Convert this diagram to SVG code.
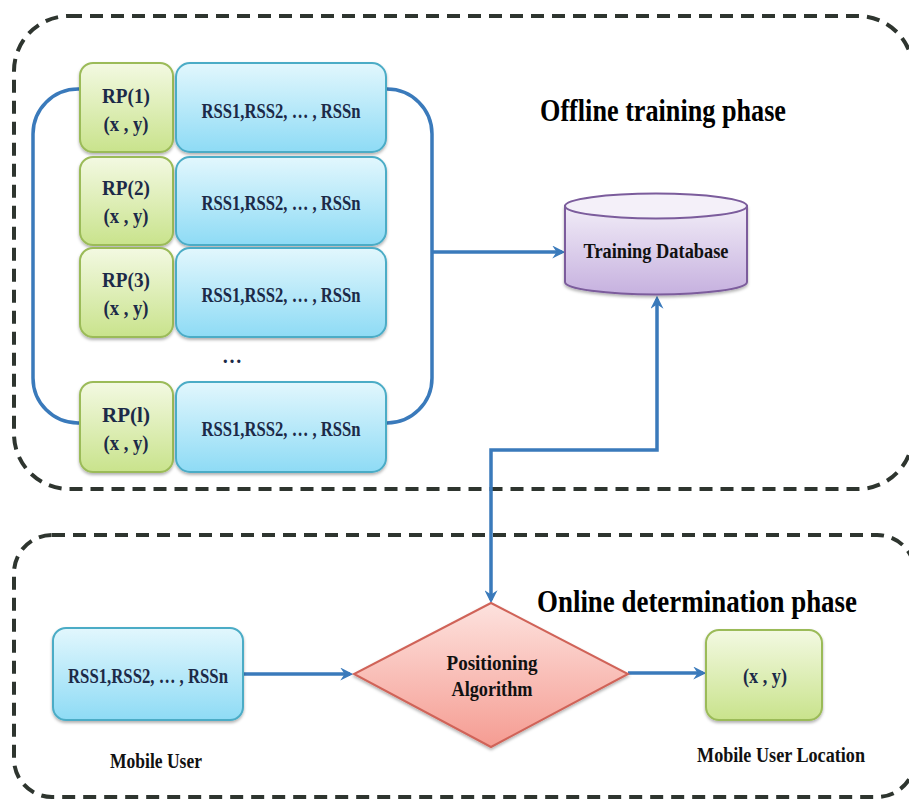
<svg xmlns="http://www.w3.org/2000/svg" width="909" height="799" viewBox="0 0 909 799">
  <defs>
    <linearGradient id="gGreen" x1="0" y1="0" x2="0" y2="1">
      <stop offset="0" stop-color="#f3f9e2"/>
      <stop offset="1" stop-color="#c9e38c"/>
    </linearGradient>
    <linearGradient id="gBlue" x1="0" y1="0" x2="0" y2="1">
      <stop offset="0" stop-color="#e2f7fd"/>
      <stop offset="1" stop-color="#8edbf5"/>
    </linearGradient>
    <linearGradient id="gPurple" x1="0" y1="0" x2="0" y2="1">
      <stop offset="0" stop-color="#f1ecf7"/>
      <stop offset="1" stop-color="#c6b1df"/>
    </linearGradient>
    <linearGradient id="gRed" x1="0" y1="0" x2="0" y2="1">
      <stop offset="0" stop-color="#fde2de"/>
      <stop offset="1" stop-color="#f59c92"/>
    </linearGradient>
    <filter id="shadow" x="-10%" y="-10%" width="120%" height="130%">
      <feDropShadow dx="0" dy="2" stdDeviation="1.5" flood-color="#000" flood-opacity="0.3"/>
    </filter>
    <marker id="arrow" viewBox="0 0 12 12" refX="9" refY="6" markerWidth="13" markerHeight="13" markerUnits="userSpaceOnUse" orient="auto-start-reverse">
      <path d="M0,0 L12,6 L0,12 L4,6 z" fill="#3a7abb"/>
    </marker>
  </defs>
  <style>
    .phase { fill: none; stroke: #2e352f; stroke-width: 4; stroke-dasharray: 13 8; }
    .conn { fill: none; stroke: #3a7abb; stroke-width: 3.5; }
    .rp { fill: url(#gGreen); stroke: #9bbb59; stroke-width: 2; filter: url(#shadow); }
    .rss { fill: url(#gBlue); stroke: #4bacc6; stroke-width: 2; filter: url(#shadow); }
    .t { font-family: "Liberation Serif", "DejaVu Serif", serif; font-weight: bold; text-anchor: middle; }
    .box { fill: #1c2a48; font-size: 20px; }
    .head { fill: #000; font-size: 31px; }
    .lbl { fill: #111; font-size: 20px; }
  </style>

  <!-- phase frames -->
  <rect class="phase" x="14" y="16" width="899" height="473" rx="55" ry="55"/>
  <rect class="phase" x="14" y="535" width="901" height="262" rx="38" ry="38"/>

  <text class="t head" x="663" y="121" textLength="246" lengthAdjust="spacingAndGlyphs">Offline training phase</text>
  <text class="t head" x="697" y="612" textLength="320" lengthAdjust="spacingAndGlyphs">Online determination phase</text>

  <!-- connectors -->
  <g id="connectors">
    <path class="conn" d="M80,89 H78 A45,45 0 0 0 33,134 V378 A45,45 0 0 0 78,423 H80"/>
    <path class="conn" d="M386,89 H387 A45,45 0 0 1 432,134 V378 A45,45 0 0 1 387,423 H386"/>
    <path class="conn" d="M432,252 H562" marker-end="url(#arrow)"/>
    <path class="conn" d="M657,299 V450 H491 V600" marker-start="url(#arrow)" marker-end="url(#arrow)"/>
    <path class="conn" d="M243,674 H350" marker-end="url(#arrow)"/>
    <path class="conn" d="M628,673 H703" marker-end="url(#arrow)"/>
  </g>

  <!-- fingerprint rows -->
  <g id="row1">
    <rect class="rp" x="80" y="63" width="93" height="89" rx="13"/>
    <rect class="rss" x="176" y="63" width="210" height="89" rx="14"/>
    <text class="t box" x="126" y="103" textLength="48" lengthAdjust="spacingAndGlyphs">RP(1)</text>
    <text class="t box" x="126" y="131" textLength="45" lengthAdjust="spacingAndGlyphs">(x , y)</text>
    <text class="t box" x="281" y="118" textLength="159" lengthAdjust="spacingAndGlyphs">RSS1,RSS2, … , RSSn</text>
  </g>
  <g id="row2">
    <rect class="rp" x="80" y="157" width="93" height="88" rx="13"/>
    <rect class="rss" x="176" y="157" width="210" height="88" rx="14"/>
    <text class="t box" x="126" y="195" textLength="48" lengthAdjust="spacingAndGlyphs">RP(2)</text>
    <text class="t box" x="126" y="223" textLength="45" lengthAdjust="spacingAndGlyphs">(x , y)</text>
    <text class="t box" x="281" y="210" textLength="159" lengthAdjust="spacingAndGlyphs">RSS1,RSS2, … , RSSn</text>
  </g>
  <g id="row3">
    <rect class="rp" x="80" y="248" width="93" height="89" rx="13"/>
    <rect class="rss" x="176" y="248" width="210" height="89" rx="14"/>
    <text class="t box" x="126" y="287" textLength="48" lengthAdjust="spacingAndGlyphs">RP(3)</text>
    <text class="t box" x="126" y="315" textLength="45" lengthAdjust="spacingAndGlyphs">(x , y)</text>
    <text class="t box" x="281" y="302" textLength="159" lengthAdjust="spacingAndGlyphs">RSS1,RSS2, … , RSSn</text>
  </g>
  <text class="t box" x="232" y="363" font-size="22">…</text>
  <g id="rowL">
    <rect class="rp" x="80" y="382" width="93" height="90" rx="13"/>
    <rect class="rss" x="176" y="382" width="210" height="90" rx="14"/>
    <text class="t box" x="126" y="422" textLength="48" lengthAdjust="spacingAndGlyphs">RP(l)</text>
    <text class="t box" x="126" y="450" textLength="45" lengthAdjust="spacingAndGlyphs">(x , y)</text>
    <text class="t box" x="281" y="436" textLength="159" lengthAdjust="spacingAndGlyphs">RSS1,RSS2, … , RSSn</text>
  </g>

  <!-- database cylinder -->
  <g id="database">
    <path d="M565,206 V282 A91,12.5 0 0 0 747,282 V206 Z" fill="url(#gPurple)" stroke="#7b5c9c" stroke-width="2" filter="url(#shadow)"/>
    <ellipse cx="656" cy="206" rx="91" ry="12.5" fill="#f4f0f9" stroke="#7b5c9c" stroke-width="2"/>
    <text class="t lbl" x="656" y="258" textLength="145" lengthAdjust="spacingAndGlyphs">Training Database</text>
  </g>

  <!-- online measurement -->
  <g id="mobile-user">
    <rect class="rss" x="53" y="628" width="190" height="92" rx="13"/>
    <text class="t box" x="148" y="683" textLength="160" lengthAdjust="spacingAndGlyphs">RSS1,RSS2, … , RSSn</text>
    <text class="t lbl" x="156" y="768" textLength="92" lengthAdjust="spacingAndGlyphs">Mobile User</text>
  </g>

  <g id="algorithm">
    <path d="M491,603 L628,674 L491,747 L354,674 Z" fill="url(#gRed)" stroke="#d06358" stroke-width="2" filter="url(#shadow)"/>
    <text class="t lbl" x="492" y="670" textLength="91" lengthAdjust="spacingAndGlyphs">Positioning</text>
    <text class="t lbl" x="492" y="696" textLength="81" lengthAdjust="spacingAndGlyphs">Algorithm</text>
  </g>

  <g id="location">
    <rect class="rp" x="706" y="630" width="116" height="90" rx="13"/>
    <text class="t box" x="765" y="683" textLength="44" lengthAdjust="spacingAndGlyphs">(x , y)</text>
    <text class="t lbl" x="781" y="762" textLength="168" lengthAdjust="spacingAndGlyphs">Mobile User Location</text>
  </g>
</svg>
